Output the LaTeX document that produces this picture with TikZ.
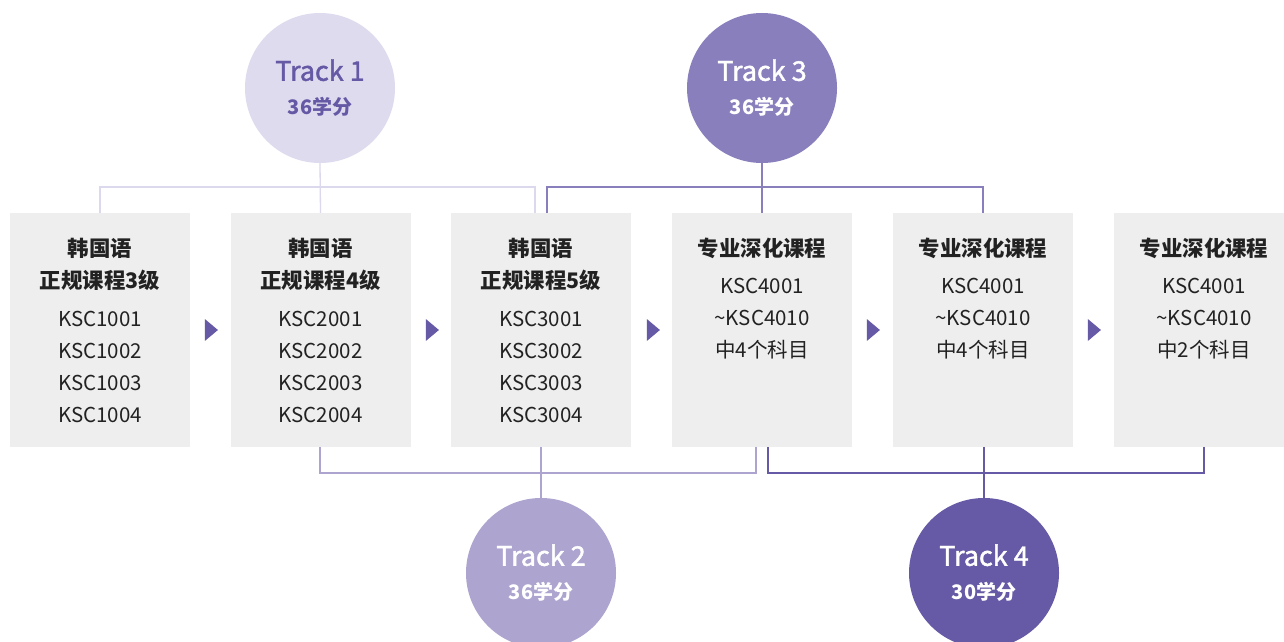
\documentclass[tikz,border=0pt]{standalone}
\usepackage{fontspec}
\setmainfont{Noto Sans CJK SC}
\newfontfamily\trackfont[FakeBold=1.6]{Noto Sans CJK SC}
\usetikzlibrary{shapes.geometric}
\definecolor{boxgray}{HTML}{EEEEEE}
\definecolor{txt}{HTML}{222222}
\definecolor{c1}{HTML}{DEDBEE}
\definecolor{c1l}{HTML}{DCD8EE}
\definecolor{c1t}{HTML}{6559A5}
\definecolor{c2}{HTML}{ADA4CF}
\definecolor{c3}{HTML}{8A7FBD}
\definecolor{c4}{HTML}{6659A5}
\tikzset{
  box/.style={fill=boxgray, minimum width=180pt, minimum height=234pt, inner sep=0pt, draw=none},
  head/.style={font=\fontsize{21.4}{32}\selectfont\bfseries, text=txt, align=center, inner sep=0pt},
  code/.style={font=\fontsize{20.5}{32}\selectfont, text=txt, align=center, inner sep=0pt},
  trk/.style={circle, minimum size=150pt, inner sep=0pt, align=center, draw=none, font=\trackfont\fontsize{27}{34}\selectfont},
  arr/.style={isosceles triangle, isosceles triangle apex angle=80, fill=c4, minimum height=13pt, minimum width=16pt, inner sep=0pt, draw=none},
  ln/.style={line width=1.3pt},
}
\newcommand{\trk}[3]{{\color{#1}Track #2}\\{\normalfont\bfseries\fontsize{20}{22}\selectfont\color{#1}#3学分}}
\begin{document}
\begin{tikzpicture}[x=1pt,y=-1pt]
\clip (0,0) rectangle (1284,642);
\useasboundingbox (0,0) rectangle (1284,642);
\fill[white] (0,0) rectangle (1284,642);
% boxes
\node[box] (b1) at (100,330) {};
\node[box] (b2) at (320.5,330) {};
\node[box] (b3) at (541,330) {};
\node[box] (b4) at (762,330) {};
\node[box] (b5) at (983,330) {};
\node[box] (b6) at (1204,330) {};
% texts
\node[head] (h1) at (100,264) {韩国语\\正规课程3级};
\node[code] (k1) at (100,367) {KSC1001\\KSC1002\\KSC1003\\KSC1004};
\node[head] (h2) at (320.5,264) {韩国语\\正规课程4级};
\node[code] (k2) at (320.5,367) {KSC2001\\KSC2002\\KSC2003\\KSC2004};
\node[head] (h3) at (541,264) {韩国语\\正规课程5级};
\node[code] (k3) at (541,367) {KSC3001\\KSC3002\\KSC3003\\KSC3004};
\node[head] (h4) at (762,248) {专业深化课程};
\node[code] (k4) at (762,319) {KSC4001\\\textasciitilde KSC4010\\中4个科目};
\node[head] (h5) at (983,248) {专业深化课程};
\node[code] (k5) at (983,319) {KSC4001\\\textasciitilde KSC4010\\中4个科目};
\node[head] (h6) at (1204,248) {专业深化课程};
\node[code] (k6) at (1204,319) {KSC4001\\\textasciitilde KSC4010\\中2个科目};
% arrows
\node[arr] (a1) at (210,330) {};
\node[arr] (a2) at (431,330) {};
\node[arr] (a3) at (652,330) {};
\node[arr] (a4) at (872,330) {};
\node[arr] (a5) at (1093,330) {};
% circles
\node[trk, fill=c1] (t1) at (320,88) {\trk{c1t}{1}{36}};
\node[trk, fill=c3] (t3) at (762,88) {\trk{white}{3}{36}};
\node[trk, fill=c2] (t2) at (541,573) {\trk{white}{2}{36}};
\node[trk, fill=c4] (t4) at (984,573) {\trk{white}{4}{30}};
% junctions
\coordinate (j1) at (320,187);
\coordinate (j3) at (762,187);
\coordinate (j2) at (541,473);
\coordinate (j4) at (984,473);
% track 1 connectors
\draw[ln, c1l] (t1.south) -- (b2.north);
\draw[ln, c1l] (b1.north) |- ([xshift=-6pt]b3.north |- j1) -- ([xshift=-6pt]b3.north);
% track 3 connectors
\draw[ln, c3] (t3.south) -- (b4.north);
\draw[ln, c3] ([xshift=6pt]b3.north) |- (b5.north |- j3) -- (b5.north);
% track 2 connectors
\draw[ln, c2] (b3.south) -- (t2.north);
\draw[ln, c2] ([xshift=-0.5pt]b2.south) |- ([xshift=-6pt]b4.south |- j2) -- ([xshift=-6pt]b4.south);
% track 4 connectors
\draw[ln, c4] (b5.south -| t4.north) -- (t4.north);
\draw[ln, c4] ([xshift=6pt]b4.south) |- (b6.south |- j4) -- (b6.south);
\end{tikzpicture}
\end{document}
